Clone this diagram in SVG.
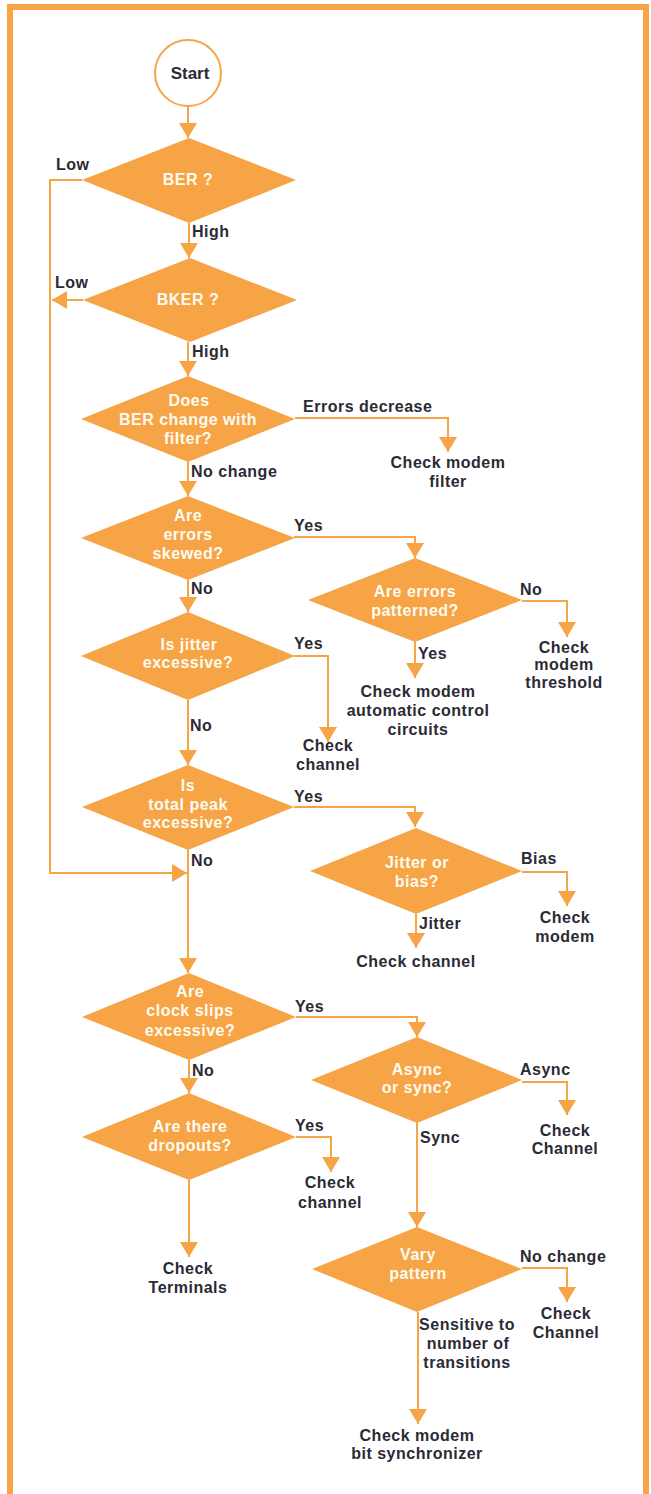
<svg xmlns="http://www.w3.org/2000/svg" width="651" height="1494" viewBox="0 0 651 1494">
<defs>
<marker id="arr" viewBox="0 0 15 18" refX="15" refY="9" markerWidth="15" markerHeight="18" orient="auto" markerUnits="userSpaceOnUse">
<path d="M0,0 L15,9 L0,18 z" fill="#F6A445"/>
</marker>
</defs>
<style>
.frame{fill:none;stroke:#F6A445;stroke-width:6}
.d{fill:#F6A445}
.c{fill:#fff;stroke:#F6A445;stroke-width:2}
.ln{fill:none;stroke:#F6A445;stroke-width:2;marker-end:url(#arr)}
text{font-family:"Liberation Sans",Arial,sans-serif;font-weight:bold;font-size:16px;letter-spacing:0.5px}
.w{fill:#FFFBF2;text-anchor:middle}
.k{fill:#2B2A35}
.m{fill:#2B2A35;text-anchor:middle}
</style>
<rect width="651" height="1494" fill="#FFFFFF"/>
<path class="frame" d="M10,1494 L10,7 L646,7 L646,1494"/>

<g id="connectors">
<path class="ln" d="M188,106 V138"/>
<path class="ln" d="M189,223 V258"/>
<path class="ln" d="M82,180 H50 V873 H187"/>
<path class="ln" d="M83,300 H52"/>
<path class="ln" d="M188,342 V376"/>
<path class="ln" d="M295,418 H448 V452"/>
<path class="ln" d="M188,462 V496"/>
<path class="ln" d="M294,537 H415 V558"/>
<path class="ln" d="M522,601 H567 V637"/>
<path class="ln" d="M415,642 V678"/>
<path class="ln" d="M188,580 V612"/>
<path class="ln" d="M294,656 H328 V742"/>
<path class="ln" d="M188,700 V765"/>
<path class="ln" d="M294,807 H415 V827"/>
<path class="ln" d="M522,872 H567 V906"/>
<path class="ln" d="M416,914 V948"/>
<path class="ln" d="M188,850 V973"/>
<path class="ln" d="M296,1017 H417 V1037"/>
<path class="ln" d="M522,1082 H567 V1115"/>
<path class="ln" d="M417,1123 V1227"/>
<path class="ln" d="M522,1268 H567 V1302"/>
<path class="ln" d="M418,1312 V1424"/>
<path class="ln" d="M189,1060 V1093"/>
<path class="ln" d="M296,1137 H331 V1172"/>
<path class="ln" d="M189,1180 V1257"/>
</g>

<g id="edge-labels">
<text class="k" x="56" y="170">Low</text>
<text class="k" x="192" y="237">High</text>
<text class="k" x="55" y="288">Low</text>
<text class="k" x="192" y="357">High</text>
<text class="k" x="303" y="412">Errors decrease</text>
<text class="k" x="191" y="477">No change</text>
<text class="k" x="294" y="531">Yes</text>
<text class="k" x="520" y="595">No</text>
<text class="k" x="418" y="659">Yes</text>
<text class="k" x="191" y="594">No</text>
<text class="k" x="294" y="649">Yes</text>
<text class="k" x="190" y="731">No</text>
<text class="k" x="294" y="802">Yes</text>
<text class="k" x="521" y="864">Bias</text>
<text class="k" x="419" y="929">Jitter</text>
<text class="k" x="191" y="866">No</text>
<text class="k" x="295" y="1012">Yes</text>
<text class="k" x="520" y="1075">Async</text>
<text class="k" x="420" y="1143">Sync</text>
<text class="k" x="520" y="1262">No change</text>
<text class="k" x="192" y="1076">No</text>
<text class="k" x="295" y="1131">Yes</text>
<text class="m" x="467" y="1330">Sensitive to</text>
<text class="m" x="468" y="1349">number of</text>
<text class="m" x="467" y="1368">transitions</text>
</g>

<g id="start">
<circle class="c" cx="188" cy="73" r="33"/>
<text class="m" x="190" y="79" style="font-size:17px;letter-spacing:0">Start</text>
</g>

<g id="ber">
<polygon class="d" points="82,180 189,138 296,180 189,223"/>
<text class="w" x="188" y="185">BER ?</text>
</g>

<g id="bker">
<polygon class="d" points="83,300 190,258 297,300 190,342"/>
<text class="w" x="188" y="305">BKER ?</text>
</g>

<g id="filter-q">
<polygon class="d" points="81,419 188,376 295,419 188,462"/>
<text class="w" x="189" y="406">Does</text>
<text class="w" x="188" y="425">BER change with</text>
<text class="w" x="188" y="444">filter?</text>
</g>

<g id="check-filter">
<text class="m" x="448" y="468">Check modem</text>
<text class="m" x="448" y="487">filter</text>
</g>

<g id="skewed-q">
<polygon class="d" points="81,538 188,496 295,538 188,580"/>
<text class="w" x="188" y="521">Are</text>
<text class="w" x="188" y="540">errors</text>
<text class="w" x="188" y="559">skewed?</text>
</g>

<g id="patterned-q">
<polygon class="d" points="308,600 415,558 522,600 415,642"/>
<text class="w" x="415" y="597">Are errors</text>
<text class="w" x="415" y="616">patterned?</text>
</g>

<g id="check-threshold">
<text class="m" x="564" y="653">Check</text>
<text class="m" x="564" y="670">modem</text>
<text class="m" x="564" y="688">threshold</text>
</g>

<g id="check-auto">
<text class="m" x="418" y="697">Check  modem</text>
<text class="m" x="418" y="716">automatic  control</text>
<text class="m" x="418" y="735">circuits</text>
</g>

<g id="jitter-q">
<polygon class="d" points="81,656 188,612 295,656 188,700"/>
<text class="w" x="189" y="650">Is  jitter</text>
<text class="w" x="188" y="668">excessive?</text>
</g>

<g id="check-channel-1">
<text class="m" x="328" y="751">Check</text>
<text class="m" x="328" y="770">channel</text>
</g>

<g id="peak-q">
<polygon class="d" points="82,807 188,765 294,807 188,850"/>
<text class="w" x="188" y="791">Is</text>
<text class="w" x="188" y="810">total peak</text>
<text class="w" x="188" y="828">excessive?</text>
</g>

<g id="jitterbias-q">
<polygon class="d" points="310,871 416,828 522,871 416,914"/>
<text class="w" x="417" y="868">Jitter or</text>
<text class="w" x="417" y="887">bias?</text>
</g>

<g id="check-modem">
<text class="m" x="565" y="923">Check</text>
<text class="m" x="565" y="942">modem</text>
</g>

<g id="check-channel-2">
<text class="m" x="416" y="967">Check  channel</text>
</g>

<g id="clock-q">
<polygon class="d" points="82,1017 189,973 296,1017 189,1060"/>
<text class="w" x="190" y="997">Are</text>
<text class="w" x="190" y="1016">clock slips</text>
<text class="w" x="190" y="1036">excessive?</text>
</g>

<g id="async-q">
<polygon class="d" points="311,1080 417,1037 522,1080 417,1123"/>
<text class="w" x="417" y="1075">Async</text>
<text class="w" x="417" y="1093">or sync?</text>
</g>

<g id="check-channel-3">
<text class="m" x="565" y="1136">Check</text>
<text class="m" x="565" y="1154">Channel</text>
</g>

<g id="dropouts-q">
<polygon class="d" points="82,1137 189,1093 296,1137 189,1180"/>
<text class="w" x="190" y="1132">Are there</text>
<text class="w" x="190" y="1151">dropouts?</text>
</g>

<g id="check-channel-4">
<text class="m" x="330" y="1188">Check</text>
<text class="m" x="330" y="1208">channel</text>
</g>

<g id="check-terminals">
<text class="m" x="188" y="1274">Check</text>
<text class="m" x="188" y="1293">Terminals</text>
</g>

<g id="vary-q">
<polygon class="d" points="312,1269 417,1227 522,1269 417,1312"/>
<text class="w" x="418" y="1260">Vary</text>
<text class="w" x="418" y="1279">pattern</text>
</g>

<g id="check-channel-5">
<text class="m" x="566" y="1319">Check</text>
<text class="m" x="566" y="1338">Channel</text>
</g>

<g id="check-bitsync">
<text class="m" x="417" y="1441">Check modem</text>
<text class="m" x="417" y="1459">bit synchronizer</text>
</g>
</svg>
